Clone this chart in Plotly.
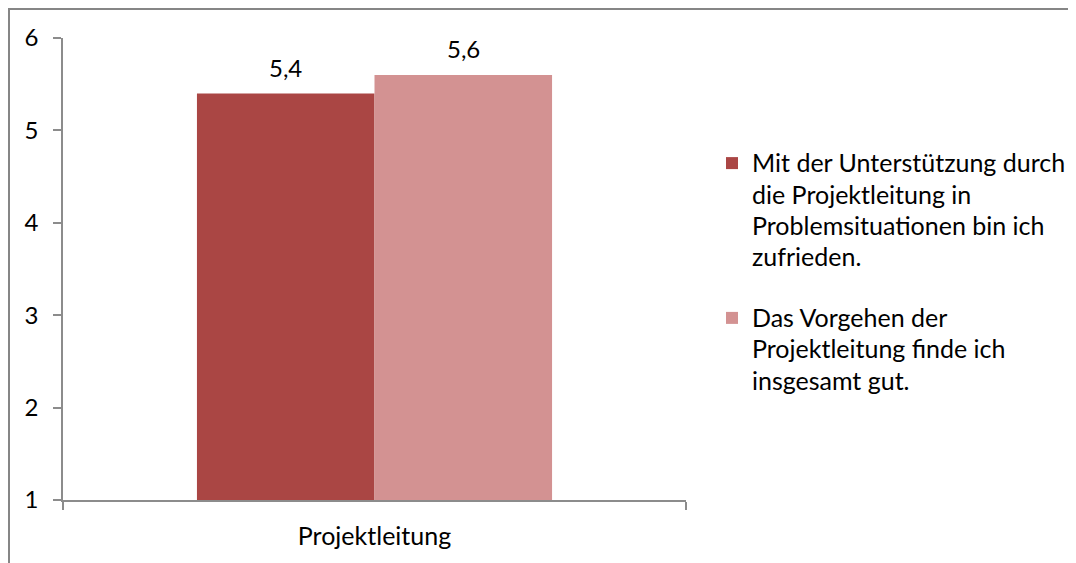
import plotly.graph_objects as go

categories = ["Projektleitung"]
series_names = [
    "Mit der Unterstützung durch<br>die Projektleitung in<br>Problemsituationen bin ich<br>zufrieden.",
    "Das Vorgehen der<br>Projektleitung finde ich<br>insgesamt gut.",
]
series_values = [[5.4], [5.6]]
series_colors = ["#AA4644", "#D39292"]
y_ticks = [1, 2, 3, 4, 5, 6]

FONT = "Lato"
TXT = 24
BARGAP = 0.43

# page is rendered with an 8px body margin, so figure coords = page coords - 8
W, H = 1068, 555
L, T = 55, 30
pw, ph = 623, 462
R, B = W - L - pw, H - T - ph


def px_x(x):
    return (x - L) / pw


def px_y(y):
    return (T + ph - y) / ph


def wrap(name, size=25):
    return "<br>".join(f"<span style='font-size:{size}px'>{p}</span>" for p in name.split("<br>"))


fig = go.Figure()
n = len(series_values)
for i, (name, vals, col) in enumerate(zip(series_names, series_values, series_colors)):
    fig.add_trace(go.Bar(
        x=categories, y=vals, name=wrap(name), legendgroup=f"g{i}",
        marker=dict(color=col, line=dict(width=0)),
    ))

# value labels above bars (positioned through the axes)
bw = (1 - BARGAP) / n
annotations = []
for i, vals in enumerate(series_values):
    for ci, v in enumerate(vals):
        annotations.append(dict(
            x=ci - (1 - BARGAP) / 2 + bw * (i + 0.5), y=v, xref="x", yref="y",
            text=f"{v:.1f}".replace(".", ","), showarrow=False,
            yanchor="middle", yshift=26,
            font=dict(family=FONT, size=TXT, color="#000"),
        ))

fig.update_layout(
    width=W, height=H,
    margin=dict(l=L, r=R, t=T, b=B, autoexpand=False),
    paper_bgcolor="white", plot_bgcolor="white",
    barmode="group", bargap=BARGAP, bargroupgap=0,
    font=dict(family=FONT, size=TXT, color="#000"),
    showlegend=True,
    annotations=annotations,
    legend=dict(
        x=px_x(704), y=px_y(133), xanchor="left", yanchor="top",
        font=dict(family=FONT, size=TXT, color="#000"),
        tracegroupgap=27, bgcolor="rgba(0,0,0,0)",
        traceorder="grouped", valign="top",
    ),
    xaxis=dict(
        showline=True, linecolor="#8c8c8c", linewidth=1.5,
        ticks="outside", tickson="boundaries", ticklen=8, tickcolor="#8c8c8c", tickwidth=1.5,
        tickfont=dict(family=FONT, size=25), showgrid=False, zeroline=False,
        ticklabelstandoff=13,
    ),
    yaxis=dict(
        range=[1, 6], tickvals=y_ticks,
        showline=True, linecolor="#8c8c8c", linewidth=1.5,
        ticks="outside", ticklen=8, tickcolor="#8c8c8c", tickwidth=1.5,
        tickfont=dict(family=FONT, size=TXT), showgrid=False, zeroline=False,
        ticklabelstandoff=10,
    ),
    shapes=[dict(
        type="path", xref="paper", yref="paper",
        path=f"M {px_x(1)} {px_y(H + 5)} L {px_x(1)} {px_y(1)} L {px_x(W + 5)} {px_y(1)}",
        line=dict(color="#868686", width=2),
    )],
)

fig.write_html("out.html")
